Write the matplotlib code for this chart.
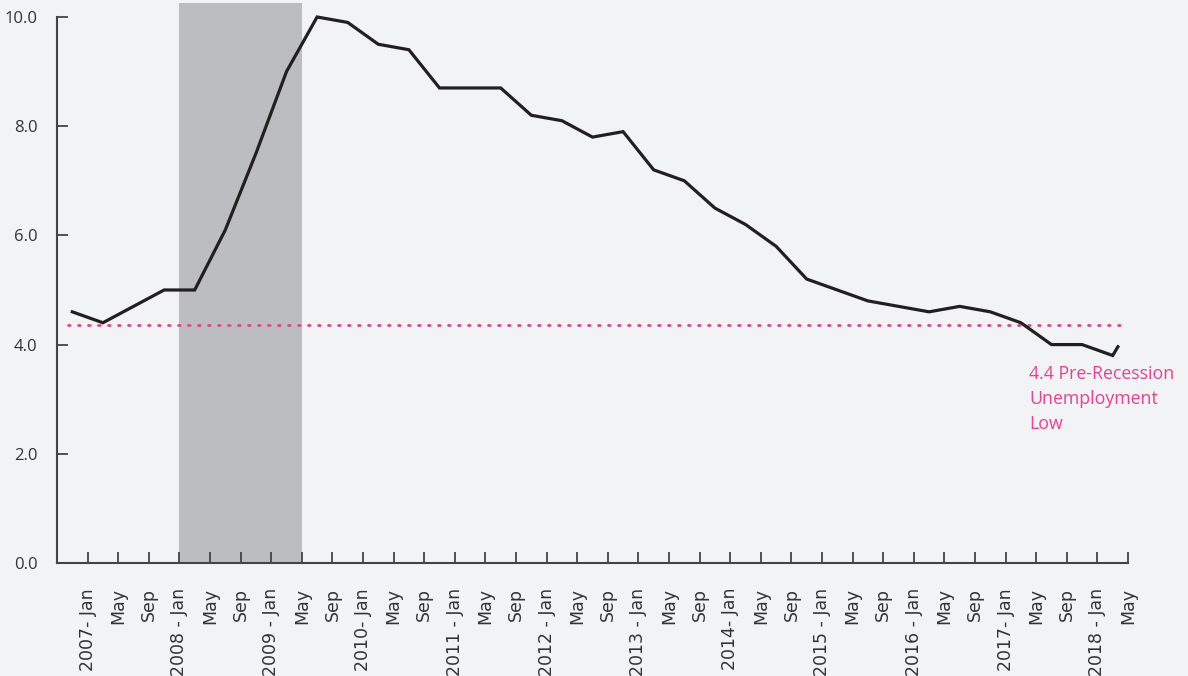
import matplotlib
matplotlib.use("Agg")
import matplotlib.pyplot as plt
import matplotlib.transforms as mtransforms
import numpy as np

# ---- data ----
tick_labels = ["2007- Jan", "May", "Sep",
               "2008 - Jan", "May", "Sep",
               "2009 - Jan", "May", "Sep",
               "2010- Jan", "May", "Sep",
               "2011 - Jan", "May", "Sep",
               "2012 - Jan", "May", "Sep",
               "2013 - Jan", "May", "Sep",
               "2014- Jan", "May", "Sep",
               "2015 - Jan", "May", "Sep",
               "2016 - Jan", "May", "Sep",
               "2017- Jan", "May", "Sep",
               "2018 - Jan", "May"]
unemployment = [4.6, 4.4, 4.7, 5.0, 5.0, 6.1, 7.5, 9.0, 10.0, 9.9, 9.5,
                9.4, 8.7, 8.7, 8.7, 8.2, 8.1, 7.8, 7.9, 7.2, 7.0, 6.5,
                6.2, 5.8, 5.2, 5.0, 4.8, 4.7, 4.6, 4.7, 4.6, 4.4, 4.0,
                4.0, 3.8]
tail_value = 3.96          # partial last segment visible at the right end
tail_fraction = 0.17       # fraction of a period drawn for the tail
pre_recession_low = 4.35
recession_start, recession_end = 3, 7   # tick indices (2008 Jan .. 2009 May)
annotation = "4.4 Pre-Recession\nUnemployment\nLow"

BG = "#f2f3f5"
LINE = "#231f20"
PINK = "#e8418f"
SHADE = "#bcbdc0"
TEXT = "#333333"

fig = plt.figure(figsize=(11.88, 6.76), dpi=100, facecolor=BG)
ax = fig.add_axes([57/1188, 1-563/676, (1128-57)/1188, (563-3)/676])
ax.set_facecolor(BG)

n = len(tick_labels)
ticks = np.arange(n)
xs = np.arange(len(unemployment)) - 0.5

ax.axvspan(recession_start, recession_end, color=SHADE, lw=0, zorder=1)
ax.plot([-0.65, n - 1], [pre_recession_low, pre_recession_low],
        color=PINK, lw=2, ls=(0, (0.6, 3.0)), dash_capstyle="round", zorder=2)
ax.plot(np.append(xs, xs[-1] + tail_fraction),
        unemployment + [tail_value],
        color=LINE, lw=2.3, solid_joinstyle="miter", zorder=3)

ax.set_xlim(-1, n - 1)
ax.set_ylim(0, 10.256)
ax.set_xticks(ticks)
ax.set_xticklabels(tick_labels, rotation=90, fontsize=12.5,
                   family=["Liberation Sans Narrow", "DejaVu Sans"], color=TEXT)
offset = mtransforms.ScaledTranslation(-5/100, 0, fig.dpi_scale_trans)
for lbl in ax.get_xticklabels():
    lbl.set_transform(lbl.get_transform() + offset)
ax.set_yticks([0, 2, 4, 6, 8, 10])
ax.set_yticklabels(["0.0", "2.0", "4.0", "6.0", "8.0", "10.0"],
                   fontsize=12, family="Open Sans", color=TEXT)

ax.tick_params(axis="x", direction="in", length=8, width=1.3, color="#444444", pad=18)
ax.tick_params(axis="y", direction="in", length=8, width=1.3, color="#444444", pad=14)
for s in ["top", "right"]:
    ax.spines[s].set_visible(False)
for s in ["left", "bottom"]:
    ax.spines[s].set_color("#444444")
    ax.spines[s].set_linewidth(1.5)
ax.spines["left"].set_bounds(0, 10)

ax.text(1029/1188, 1-365/676, annotation, transform=fig.transFigure,
        ha="left", va="top", color=PINK, fontsize=12.8, family="Open Sans",
        linespacing=1.5)

fig.savefig("out.png", dpi=100, facecolor=BG)
